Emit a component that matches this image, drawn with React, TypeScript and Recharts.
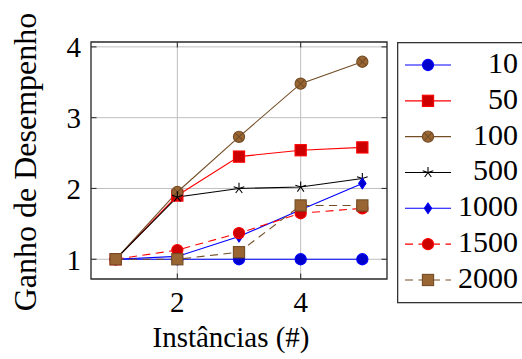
import React from 'react';
import {
  LineChart,
  Line,
  XAxis,
  YAxis,
  CartesianGrid,
  Legend,
  ReferenceArea,
  ReferenceLine,
  Label,
} from 'recharts';

const instances = [1, 2, 3, 4, 5];
const s10 = [1, 1, 1, 1, 1];
const s50 = [1, 1.9, 2.45, 2.54, 2.58];
const s100 = [1, 1.95, 2.73, 3.48, 3.79];
const s500 = [1, 1.88, 2.0, 2.02, 2.14];
const s1000 = [1, 1.04, 1.32, 1.7, 2.07];
const s1500 = [1, 1.13, 1.37, 1.65, 1.72];
const s2000 = [1, 1.0, 1.1, 1.76, 1.76];
const seriesNames = ['10', '50', '100', '500', '1000', '1500', '2000'];
const seriesValues = [s10, s50, s100, s500, s1000, s1500, s2000];
const xTicks = [2, 4];
const yTicks = [1, 2, 3, 4];
const xLabel = 'Instâncias (#)';
const yLabel = 'Ganho de Desempenho';

const X_DOMAIN: [number, number] = [0.6, 5.4];
const Y_DOMAIN: [number, number] = [0.721, 4.069];

const FONT = 'Liberation Serif';
const W = 522;
const H = 359;
const M_TOP = 42;
const M_RIGHT = 135;
const Y_AXIS_W = 91;
const X_AXIS_H = 80;
const PLOT_W = W - M_RIGHT - Y_AXIS_W;
const PLOT_H = H - M_TOP - X_AXIS_H;
const TICK_PX = 5.5;

type Kind = 'circle' | 'square' | 'otimes' | 'star' | 'diamond';
interface Style {
  stroke: string;
  fill: string;
  kind: Kind;
  dash?: string;
}
const styles: Style[] = [
  { stroke: '#0000ff', fill: '#0000cc', kind: 'circle' },
  { stroke: '#ff0000', fill: '#cc0000', kind: 'square' },
  { stroke: '#734d26', fill: '#996633', kind: 'otimes' },
  { stroke: '#000000', fill: '#000000', kind: 'star' },
  { stroke: '#0000ff', fill: '#0000cc', kind: 'diamond' },
  { stroke: '#ff0000', fill: '#cc0000', kind: 'circle', dash: '8 5.5' },
  { stroke: '#734d26', fill: '#996633', kind: 'square', dash: '8 5.5' },
];

const data = instances.map((x, i) => {
  const row: Record<string, number> = { x };
  seriesNames.forEach((n, j) => {
    row['s' + n] = seriesValues[j][i];
  });
  return row;
});

const MS = 5.6;

function Marker({ cx, cy, st }: { cx: number; cy: number; st: Style }) {
  const sw = 1.1;
  if (cx == null || cy == null) return <g />;
  switch (st.kind) {
    case 'circle':
      return <circle cx={cx} cy={cy} r={MS} fill={st.fill} stroke={st.stroke} strokeWidth={sw} />;
    case 'square':
      return (
        <rect x={cx - MS} y={cy - MS} width={2 * MS} height={2 * MS} fill={st.fill} stroke={st.stroke} strokeWidth={sw} />
      );
    case 'otimes': {
      const d = MS * 0.7071;
      return (
        <g>
          <circle cx={cx} cy={cy} r={MS} fill={st.fill} stroke={st.stroke} strokeWidth={sw} />
          <line x1={cx - d} y1={cy - d} x2={cx + d} y2={cy + d} stroke={st.stroke} strokeWidth={sw} />
          <line x1={cx - d} y1={cy + d} x2={cx + d} y2={cy - d} stroke={st.stroke} strokeWidth={sw} />
        </g>
      );
    }
    case 'star': {
      const lines = [0, 1, 2, 3, 4].map((k) => {
        const a = (-90 + k * 72) * (Math.PI / 180);
        return (
          <line key={k} x1={cx} y1={cy} x2={cx + MS * Math.cos(a)} y2={cy + MS * Math.sin(a)} stroke={st.stroke} strokeWidth={sw} />
        );
      });
      return <g>{lines}</g>;
    }
    case 'diamond': {
      const hw = MS * 0.65;
      const hh = MS * 0.95;
      return (
        <polygon
          points={`${cx},${cy - hh} ${cx + hw},${cy} ${cx},${cy + hh} ${cx - hw},${cy}`}
          fill={st.fill}
          stroke={st.stroke}
          strokeWidth={sw}
        />
      );
    }
  }
  return <g />;
}

function LegendBox() {
  const rowH = 35.83;
  const first = 23;
  return (
    <svg width={130} height={262} style={{ display: 'block', overflow: 'visible' }}>
      <rect x={0.65} y={0.65} width={140} height={260} fill="#fff" stroke="#333" strokeWidth={1.3} />
      {seriesNames.map((n, i) => {
        const st = styles[i];
        const cy = first + i * rowH;
        return (
          <g key={n}>
            <line x1={8} y1={cy} x2={54} y2={cy} stroke={st.stroke} strokeWidth={1.1} strokeDasharray={st.dash} />
            <Marker cx={31} cy={cy} st={st} />
            <text x={121} y={cy + 8} textAnchor="end" fontSize={30} fontFamily={FONT} fill="#000">
              {n}
            </text>
          </g>
        );
      })}
    </svg>
  );
}

export default function App() {
  const tlY = (TICK_PX * (Y_DOMAIN[1] - Y_DOMAIN[0])) / PLOT_H;
  const tlX = (TICK_PX * (X_DOMAIN[1] - X_DOMAIN[0])) / PLOT_W;
  return (
    <div style={{ position: 'absolute', left: 0, top: 0, width: W, height: H, overflow: 'hidden', background: '#fff' }}>
      <LineChart
        width={W}
        height={H}
        data={data}
        margin={{ top: M_TOP, right: M_RIGHT, left: 0, bottom: 0 }}
        style={{ fontFamily: FONT }}
      >
        <CartesianGrid stroke="#bfbfbf" strokeWidth={1} />
        <XAxis
          dataKey="x"
          type="number"
          domain={X_DOMAIN}
          ticks={xTicks}
          allowDataOverflow
          height={X_AXIS_H}
          axisLine={false}
          tickLine={false}
          tickSize={0}
          tickMargin={12}
          tick={{ fontSize: 29, fill: '#000', fontFamily: FONT }}
        >
          <Label
            content={() => (
              <text x={231} y={347} textAnchor="middle" fontSize={29} fontFamily={FONT} fill="#000">
                {xLabel}
              </text>
            )}
          />
        </XAxis>
        <YAxis
          type="number"
          domain={Y_DOMAIN}
          ticks={yTicks}
          allowDataOverflow
          width={Y_AXIS_W}
          axisLine={false}
          tickLine={false}
          tickSize={0}
          tickMargin={10}
          tick={{ fontSize: 29, fill: '#000', fontFamily: FONT }}
        >
          <Label
            content={() => (
              <text
                x={36}
                y={162}
                transform="rotate(-90 36 162)"
                textAnchor="middle"
                fontSize={32}
                fontFamily={FONT}
                fill="#000"
              >
                {yLabel}
              </text>
            )}
          />
        </YAxis>
        {xTicks.map((t) => (
          <ReferenceLine
            key={'xb' + t}
            segment={[
              { x: t, y: Y_DOMAIN[0] },
              { x: t, y: Y_DOMAIN[0] + tlY },
            ]}
            stroke="#333"
            strokeWidth={1.1}
          />
        ))}
        {xTicks.map((t) => (
          <ReferenceLine
            key={'xt' + t}
            segment={[
              { x: t, y: Y_DOMAIN[1] },
              { x: t, y: Y_DOMAIN[1] - tlY },
            ]}
            stroke="#333"
            strokeWidth={1.1}
          />
        ))}
        {yTicks.map((t) => (
          <ReferenceLine
            key={'yl' + t}
            segment={[
              { x: X_DOMAIN[0], y: t },
              { x: X_DOMAIN[0] + tlX, y: t },
            ]}
            stroke="#333"
            strokeWidth={1.1}
          />
        ))}
        {yTicks.map((t) => (
          <ReferenceLine
            key={'yr' + t}
            segment={[
              { x: X_DOMAIN[1], y: t },
              { x: X_DOMAIN[1] - tlX, y: t },
            ]}
            stroke="#333"
            strokeWidth={1.1}
          />
        ))}
        <ReferenceArea
          x1={X_DOMAIN[0]}
          x2={X_DOMAIN[1]}
          y1={Y_DOMAIN[0]}
          y2={Y_DOMAIN[1]}
          fill="none"
          stroke="#333"
          strokeWidth={1.3}
          ifOverflow="visible"
        />
        {seriesNames.map((n, i) => {
          const st = styles[i];
          return (
            <Line
              key={n}
              dataKey={'s' + n}
              name={n}
              type="linear"
              stroke={st.stroke}
              strokeWidth={1.1}
              strokeDasharray={st.dash}
              isAnimationActive={false}
              activeDot={false}
              dot={(p: any) => <Marker key={n + '-' + p.index} cx={p.cx} cy={p.cy} st={st} />}
            />
          );
        })}
        <Legend
          layout="vertical"
          align="center"
          verticalAlign="middle"
          wrapperStyle={{ left: 397, top: 42, width: 130, height: 262 }}
          content={() => <LegendBox />}
        />
      </LineChart>
    </div>
  );
}
